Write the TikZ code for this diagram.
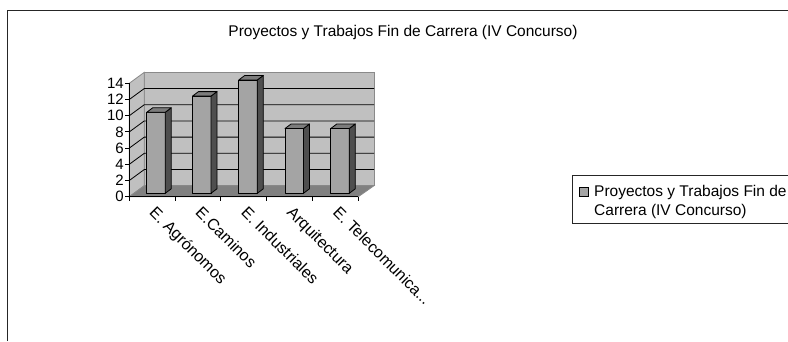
\documentclass[tikz,border=0pt]{standalone}
\usepackage{fontspec}
\setmainfont{Liberation Sans}
\definecolor{wallc}{HTML}{C0C0C0}
\definecolor{floorc}{HTML}{808080}
\definecolor{barfront}{HTML}{A4A4A4}
\definecolor{bartop}{HTML}{7C7C7C}
\definecolor{barside}{HTML}{4E4E4E}
\definecolor{edgec}{HTML}{8A8A8A}
\tikzset{
  ticklab/.style={inner sep=0pt, anchor=east, font=\fontsize{15}{15}\selectfont},
  catlab/.style={inner sep=0pt, rotate=-45, anchor=north west, font=\fontsize{16}{16}\selectfont},
  bigtxt/.style={inner sep=0pt, anchor=base, font=\fontsize{15.5}{18}\selectfont},
  legtxt/.style={inner sep=0pt, anchor=base west, font=\fontsize{15.5}{18}\selectfont},
  barbox/.style={draw=black, line width=0.8pt, line join=round},
  grid3d/.style={draw=black, line width=0.8pt},
  wall/.style={fill=wallc, draw=edgec, line width=0.8pt},
}
\newcommand\dbar[2]{%
  \pgfmathsetmacro\yt{193.3-#2*8.1}
  \filldraw[barbox, fill=barfront] (#1,193.3) rectangle (#1+18.5,\yt);
  \filldraw[barbox, fill=barside] (#1+18.5,193.3) -- ++(6,-4.5) -- (#1+24.5,\yt-4.5) -- (#1+18.5,\yt) -- cycle;
  \filldraw[barbox, fill=bartop] (#1,\yt) -- ++(6,-4.5) -- ++(18.5,0) -- (#1+18.5,\yt) -- cycle;
}
\begin{document}
\begin{tikzpicture}[x=1pt,y=-1pt]
\useasboundingbox (0,0) rectangle (788,341);
\fill[white] (0,0) rectangle (788,341);
% chart frame
\draw[line width=1.3pt, black!85] (7.5,341) -- (7.5,10.5) -- (788,10.5);
% title
\node[bigtxt] (title) at (403,36.7) {Proyectos y Trabajos Fin de Carrera (IV Concurso)};
% back wall
\filldraw[wall] (144.3,185.7) rectangle (374,72.3);
% side wall
\filldraw[wall] (129.3,196.7) -- (144.3,185.7) -- (144.3,72.3) -- (129.3,83.3) -- cycle;
% gridlines
\foreach \v in {2,4,...,12}{
  \pgfmathsetmacro\yy{185.7-\v*8.1}
  \draw[grid3d] (129.3,\yy+11) -- (144.3,\yy) -- (374,\yy);
}
% floor
\filldraw[fill=floorc, draw=edgec, line width=0.8pt] (129.3,196.7) -- (358.3,196.7) -- (374,185.7) -- (144.3,185.7) -- cycle;
% axes
\draw[black, line width=0.9pt] (129.3,83.3) -- (129.3,196.7) -- (358.3,196.7);
\foreach \v in {0,2,...,14}{
  \pgfmathsetmacro\yy{196.7-\v*8.1}
  \draw[black, line width=0.9pt] (125.3,\yy) -- (129.3,\yy);
  \node[ticklab] (tick\v) at (124,\yy) {\v};
}
\foreach \x in {129.3,175.1,220.9,266.7,312.5,358.3}{
  \draw[black, line width=0.9pt] (\x,196.7) -- (\x,201);
}
% bars
\dbar{146.7}{10}
\dbar{192.5}{12}
\dbar{238.8}{14}
\dbar{285.0}{8}
\dbar{330.8}{8}
% category labels
\node[catlab] (c1) at (157,205) {E. Agrónomos};
\node[catlab] (c2) at (202.8,205) {E.Caminos};
\node[catlab] (c3) at (248.6,205) {E. Industriales};
\node[catlab] (c4) at (294.4,205) {Arquitectura};
\node[catlab] (c5) at (340.2,205) {E. Telecomunica...};
% legend
\draw[black!85, line width=1pt] (800,175) -- (572.7,175) -- (572.7,223.3) -- (800,223.3);
\filldraw[fill=barfront, draw=black, line width=0.8pt] (579,187.7) rectangle (588.3,196);
\node[legtxt] (leg1) at (594,196.7) {Proyectos y Trabajos Fin de};
\node[legtxt] (leg2) at (594,215) {Carrera (IV Concurso)};
\end{tikzpicture}
\end{document}
